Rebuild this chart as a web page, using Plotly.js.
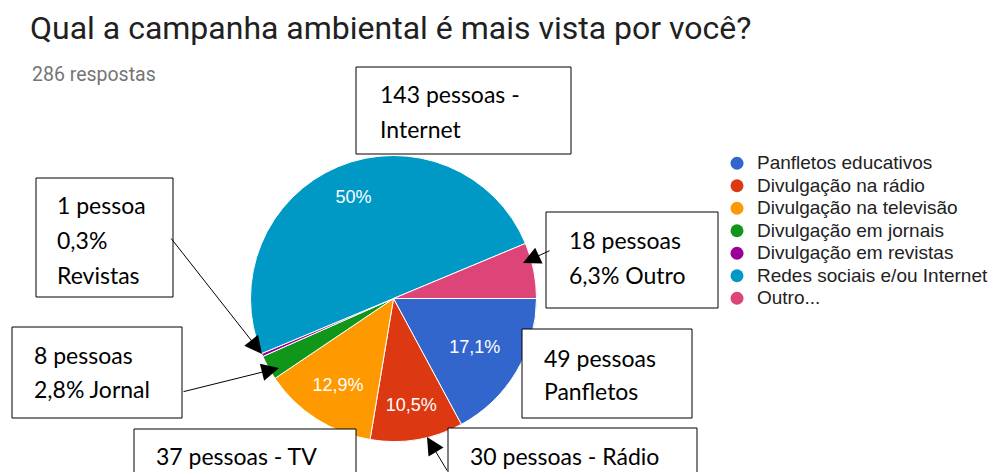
<!DOCTYPE html>
<html><head><meta charset="utf-8">
<script src="https://cdn.plot.ly/plotly-3.0.1.min.js"></script>
<style>html,body{margin:0;padding:0;background:#fff}#chart{width:1000px;height:472px}</style>
</head><body><div id="chart"></div>
<script>
// ---- data ----
const categories = ['Panfletos educativos','Divulgação na rádio','Divulgação na televisão','Divulgação em jornais','Divulgação em revistas','Redes sociais e/ou Internet','Outro...'];
const respostas = [49, 30, 37, 8, 1, 143, 18];
const shortNames = ['Panfletos','Rádio','TV','Jornal','Revistas','Internet','Outro'];
const colors = ['#3366cc','#dc3912','#ff9900','#109618','#990099','#0099c6','#dd4477'];
const titleText = 'Qual a campanha ambiental é mais vista por você?';

// ---- helpers ----
const total = respostas.reduce((a,b)=>a+b,0);
function pct(i){ let s=(respostas[i]/total*100).toFixed(1).replace('.',','); return s.endsWith(',0')?s.slice(0,-2):s; }
const NB='\u00a0';
const maxV = Math.max(...respostas);
// label for large half-slice is pushed outward (as the original renderer does) by padding the text block
const sliceText = respostas.map((v,i)=>{
  if (v/total*100 < 7) return '';
  const t = pct(i)+'%';
  return v===maxV ? t+NB.repeat(5)+('<br>'+NB).repeat(3) : t;
});
const W=1000,H=472;
const X=px=>px/W, Y=py=>1-py/H;

const pieCx=393.5, pieCy=298.5, pieR=143;

const traces = [{
  type:'pie', labels:categories, values:respostas, sort:false, direction:'clockwise', rotation:90,
  marker:{colors:colors, line:{color:'#ffffff', width:1}},
  text:sliceText, textinfo:'text', textposition:'inside', insidetextorientation:'horizontal',
  textfont:{family:'Liberation Sans, Arial, sans-serif', size:18, color:'#ffffff'},
  showlegend:false, hoverinfo:'none',
  domain:{x:[X(pieCx-pieR), X(pieCx+pieR)], y:[Y(pieCy+pieR), Y(pieCy-pieR)]}
}];
categories.forEach((c,i)=>{
  traces.push({type:'scatter', mode:'markers', x:[null], y:[null], name:'<span style="font-size:19px">'+c+'</span>',
    marker:{color:colors[i], size:13, symbol:'circle'}, hoverinfo:'none', showlegend:true});
});

// callout boxes (pixel layout)
const boxes = [
  {i:5, r:[356,67,571,154], tx:378, base:[102,137], lines:[respostas[5]+' pessoas -', shortNames[5]]},
  {i:4, r:[36,178,173,297], tx:55, base:[213,248,283], lines:[respostas[4]+' pessoa', pct(4)+'%', shortNames[4]]},
  {i:3, r:[12,327,182,418], tx:32, base:[363,397], lines:[respostas[3]+' pessoas', pct(3)+'% '+shortNames[3]]},
  {i:2, r:[134,429,356,490], tx:154, base:[464], lines:[respostas[2]+' pessoas - '+shortNames[2]]},
  {i:1, r:[448,428,697,490], tx:468, base:[464], lines:[respostas[1]+' pessoas - '+shortNames[1]]},
  {i:6, r:[546,212,718,308], tx:567, base:[248,283], lines:[respostas[6]+' pessoas', pct(6)+'% '+shortNames[6]]},
  {i:0, r:[522,329,692,418], tx:542, base:[366,399], lines:[respostas[0]+' pessoas', shortNames[0]]}
];
const arrows = [
  {tip:[262,354], tail:[170,237]},
  {tip:[279,368], tail:[182,392]},
  {tip:[523,263], tail:[551,250]},
  {tip:[427,437], tail:[448,474]}
];
const boxFont = {family:'Lato, sans-serif', size:23, color:'#000'};
const shapes = boxes.map(b=>({type:'rect', xref:'paper', yref:'paper', layer:'above',
  x0:X(b.r[0]), x1:X(b.r[2]), y0:Y(b.r[3]), y1:Y(b.r[1]), line:{color:'#000', width:1}, fillcolor:'#fff'}));
const annotations = [];
boxes.forEach(b=>{
  b.lines.forEach((t,k)=>{
    annotations.push({xref:'paper', yref:'paper', x:X(b.tx), y:Y(b.base[k]-8), xanchor:'left', yanchor:'middle',
      text:t, showarrow:false, font:boxFont});
  });
});
arrows.forEach(a=>{
  annotations.push({xref:'paper', yref:'paper', x:X(a.tip[0]), y:Y(a.tip[1]), text:'', showarrow:true,
    ax:a.tail[0]-a.tip[0], ay:a.tail[1]-a.tip[1], arrowhead:2, arrowsize:3.5, arrowwidth:1, arrowcolor:'#000', standoff:0, startstandoff:0});
});
annotations.push({xref:'paper', yref:'paper', x:X(30), y:Y(74), xanchor:'left', yanchor:'middle', showarrow:false,
  text: total+' respostas', font:{family:'Roboto, sans-serif', size:19.5, color:'#757575'}});

const layout = {
  width:W, height:H, margin:{l:0,r:0,t:0,b:0}, paper_bgcolor:'#fff', plot_bgcolor:'rgba(0,0,0,0)',
  title:{text:titleText, x:X(30), xanchor:'left', xref:'container', yref:'container', y:Y(28), yanchor:'middle',
    font:{family:'Roboto, sans-serif', size:32, color:'#212121'}},
  xaxis:{visible:false, domain:[0.95,1]}, yaxis:{visible:false, domain:[0.95,1]},
  showlegend:true,
  legend:{x:X(717), xanchor:'left', y:Y(147), yanchor:'top', bgcolor:'rgba(0,0,0,0)', borderwidth:0,
    font:{family:'Liberation Sans, Arial, sans-serif', size:15, color:'#222'}, itemclick:false, itemdoubleclick:false},
  shapes:shapes, annotations:annotations
};
Plotly.newPlot('chart', traces, layout, {staticPlot:true, displayModeBar:false});
</script></body></html>
